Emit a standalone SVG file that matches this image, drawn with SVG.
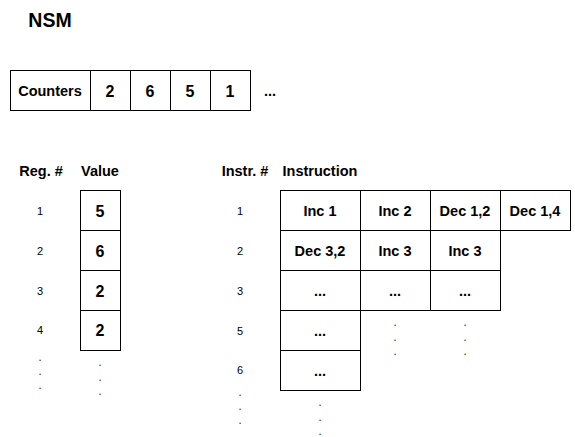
<svg xmlns="http://www.w3.org/2000/svg" width="575" height="437" viewBox="0 0 575 437">
<style>
rect{fill:#fff;stroke:#000;stroke-width:1}
text{font-family:"Liberation Sans",Arial,sans-serif;text-anchor:middle;dominant-baseline:central;fill:#000}
.c{font-size:14.5px;font-weight:bold}
.n{font-size:16px;font-weight:bold}
.h{font-size:14.5px;font-weight:bold}
.s{font-size:11px}
.d{font-size:13px;fill:#444}
</style>
<rect width="575" height="437" style="fill:#fff;stroke:none"/>
<text x="50" y="20" style="font-size:19.5px;font-weight:bold">NSM</text>
<g id="counters">
<rect x="10.5" y="70.5" width="80" height="40"/><text class="c" x="50" y="91">Counters</text>
<rect x="90.5" y="70.5" width="40" height="40"/><text class="n" x="110" y="91">2</text>
<rect x="130.5" y="70.5" width="40" height="40"/><text class="n" x="150" y="91">6</text>
<rect x="170.5" y="70.5" width="40" height="40"/><text class="n" x="190" y="91">5</text>
<rect x="210.5" y="70.5" width="40" height="40"/><text class="n" x="230" y="91">1</text>
<text class="c" x="270" y="91">...</text>
</g>
<g id="registers">
<text class="h" x="41" y="171">Reg. #</text>
<text class="h" x="100" y="171">Value</text>
<text class="s" x="40" y="211">1</text>
<text class="s" x="40" y="251">2</text>
<text class="s" x="40" y="291">3</text>
<text class="s" x="40" y="330">4</text>
<rect x="80.5" y="190.5" width="40" height="40"/><text class="n" x="100" y="211">5</text>
<rect x="80.5" y="230.5" width="40" height="40"/><text class="n" x="100" y="251">6</text>
<rect x="80.5" y="270.5" width="40" height="40"/><text class="n" x="100" y="291">2</text>
<rect x="80.5" y="310.5" width="40" height="40"/><text class="n" x="100" y="330">2</text>
<text class="d" x="40" y="356">.</text><text class="d" x="40" y="370">.</text><text class="d" x="40" y="384">.</text>
<text class="d" x="100" y="361">.</text><text class="d" x="100" y="376">.</text><text class="d" x="100" y="390">.</text>
</g>
<g id="instructions">
<text class="h" x="245" y="171">Instr. #</text>
<text class="h" x="320" y="171">Instruction</text>
<text class="s" x="240" y="211">1</text>
<text class="s" x="240" y="251">2</text>
<text class="s" x="240" y="291">3</text>
<text class="s" x="240" y="331">5</text>
<text class="s" x="240" y="370">6</text>
<rect x="280.5" y="190.5" width="80" height="40"/><text class="c" x="320" y="211">Inc 1</text>
<rect x="360.5" y="190.5" width="70" height="40"/><text class="c" x="395" y="211">Inc 2</text>
<rect x="430.5" y="190.5" width="70" height="40"/><text class="c" x="465" y="211">Dec 1,2</text>
<rect x="500.5" y="190.5" width="70" height="40"/><text class="c" x="535" y="211">Dec 1,4</text>
<rect x="280.5" y="230.5" width="80" height="40"/><text class="c" x="320" y="251">Dec 3,2</text>
<rect x="360.5" y="230.5" width="70" height="40"/><text class="c" x="395" y="251">Inc 3</text>
<rect x="430.5" y="230.5" width="70" height="40"/><text class="c" x="465" y="251">Inc 3</text>
<rect x="280.5" y="270.5" width="80" height="40"/><text class="c" x="320" y="291">...</text>
<rect x="360.5" y="270.5" width="70" height="40"/><text class="c" x="395" y="291">...</text>
<rect x="430.5" y="270.5" width="70" height="40"/><text class="c" x="465" y="291">...</text>
<rect x="280.5" y="310.5" width="80" height="40"/><text class="c" x="320" y="331">...</text>
<rect x="280.5" y="350.5" width="80" height="40"/><text class="c" x="320" y="371">...</text>
<text class="d" x="395" y="321">.</text><text class="d" x="395" y="336">.</text><text class="d" x="395" y="350">.</text>
<text class="d" x="465" y="321">.</text><text class="d" x="465" y="336">.</text><text class="d" x="465" y="350">.</text>
<text class="d" x="240" y="391">.</text><text class="d" x="240" y="405">.</text><text class="d" x="240" y="419">.</text>
<text class="d" x="320" y="401">.</text><text class="d" x="320" y="416">.</text><text class="d" x="320" y="430">.</text>
</g>
</svg>
